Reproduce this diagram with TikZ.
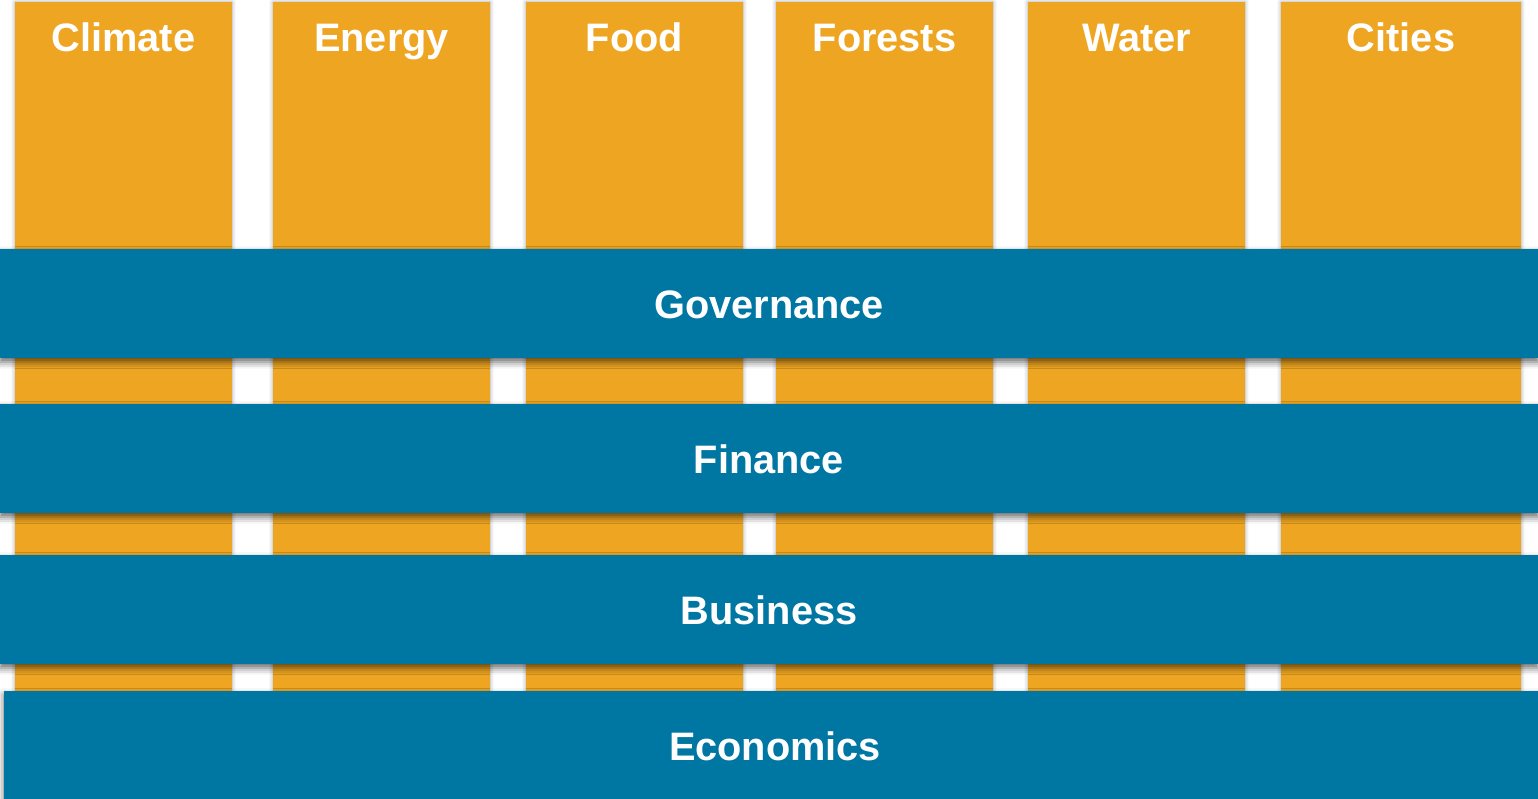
\documentclass[tikz,border=0pt]{standalone}
\usepackage{fontspec}
\setmainfont{Liberation Sans}
\usetikzlibrary{shadows.blur}
\definecolor{pillar}{RGB}{238,165,34}
\definecolor{band}{RGB}{0,119,162}
\tikzset{
  pillar/.style={fill=pillar, blur shadow={shadow xshift=0pt, shadow yshift=0pt, shadow blur radius=3pt, shadow opacity=35}},
  band/.style={fill=band, blur shadow={shadow xshift=0pt, shadow yshift=-3pt, shadow blur radius=5pt, shadow opacity=60}},
  label/.style={text=white, font=\fontsize{29.8}{35}\selectfont\bfseries, inner sep=0.75pt, anchor=base}
}
\begin{document}
\begin{tikzpicture}[x=0.75pt,y=0.75pt,yscale=-1,xscale=1]
\useasboundingbox (0,0) rectangle (1538,799);

%Shape: Rectangle [Climate]
\path [pillar] (15,2) rectangle (232,700) ;
%Shape: Rectangle [Energy]
\path [pillar] (273,2) rectangle (490,700) ;
%Shape: Rectangle [Food]
\path [pillar] (526,2) rectangle (743,700) ;
%Shape: Rectangle [Forests]
\path [pillar] (776,2) rectangle (993,700) ;
%Shape: Rectangle [Water]
\path [pillar] (1028,2) rectangle (1245,700) ;
%Shape: Rectangle [Cities]
\path [pillar] (1281,2) rectangle (1521,700) ;

%Shape: Rectangle [Governance]
\path [band] (0,249) rectangle (1538,358) ;
%Shape: Rectangle [Finance]
\path [band] (0,404) rectangle (1538,513) ;
%Shape: Rectangle [Business]
\path [band] (0,555) rectangle (1538,664) ;
%Shape: Rectangle [Economics]
\path [band] (4,691) rectangle (1538,799) ;

% Text Node
\draw (123.5,52) node [label] (climate) {Climate};
% Text Node
\draw (381.5,52) node [label] (energy) {Energy};
% Text Node
\draw (634.5,52) node [label] (food) {Food};
% Text Node
\draw (884.5,52) node [label] (forests) {Forests};
% Text Node
\draw (1136.5,52) node [label] (water) {Water};
% Text Node
\draw (1401,52) node [label] (cities) {Cities};
% Text Node
\draw (769,318.5) node [label] (governance) {Governance};
% Text Node
\draw (769,473.5) node [label] (finance) {Finance};
% Text Node
\draw (769,624.5) node [label] (business) {Business};
% Text Node
\draw (775,760) node [label] (economics) {Economics};

\end{tikzpicture}
\end{document}
